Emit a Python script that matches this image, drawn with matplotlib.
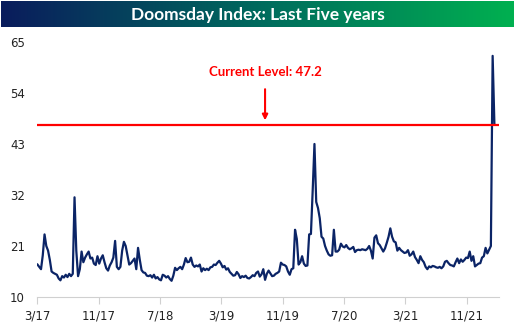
import numpy as np
import pandas as pd
import matplotlib
matplotlib.use("Agg")
import matplotlib.pyplot as plt
import matplotlib.dates as mdates
from matplotlib.colors import LinearSegmentedColormap

# weekly readings of the index, 3/2017 -> 2/2022
values = [
    17, 16.5, 16, 19, 23.5, 21, 20, 18, 15.5, 15.2,
    15, 14.8, 14, 13.6, 14.5, 14.2, 14.8, 14.3, 15, 14.5,
    15, 31.5, 20, 14.5, 16, 19.8, 17.5, 18.5, 19.2, 19.8,
    18.3, 18.5, 17.2, 16.9, 18.8, 17.2, 18.3, 19, 17.5, 16.2,
    15.7, 16.8, 17.5, 18.5, 22.1, 16.5, 16, 16.5, 20, 21.9,
    21, 19, 17, 17.3, 17.8, 18.3, 16, 20.6, 18, 15.8,
    15.3, 15.2, 14.6, 14.5, 14.7, 14.2, 14.8, 14, 14.3, 13.8,
    13.6, 14.8, 14.6, 14.2, 14.5, 13.9, 13.5, 14.6, 16.3, 15.8,
    16.2, 16.5, 16, 17, 18.4, 17.5, 17.6, 18.5, 17, 16.5,
    16.8, 16.6, 17, 15.5, 16.2, 15.8, 16.1, 15.8, 16.4, 16.5,
    17, 16.9, 17.4, 17.8, 17.2, 16.4, 16.7, 15.9, 16.2, 15.4,
    15, 14.6, 14.7, 15.4, 14.9, 14.1, 14.5, 14.3, 14.6, 14.1,
    14, 14.3, 14.7, 14.5, 15.2, 15.5, 14.4, 14.9, 16, 13.7,
    15, 15.7, 15.1, 14.5, 14.6, 15, 15.2, 15.5, 17.4, 17,
    16.9, 16.6, 15.5, 14.8, 16, 16.2, 24.5, 22.5, 17, 17.5,
    18.8, 17.2, 16.7, 16.8, 23.5, 23.6, 33, 43, 30.5, 29.2,
    27, 23, 22.6, 21, 20, 19.2, 18.9, 19, 24.5, 19.8,
    19.8, 20.2, 21.5, 20.9, 20.7, 21.2, 20.6, 20.3, 20.5, 20.8,
    19.7, 20.1, 20.2, 20.1, 20.3, 20.2, 20.1, 20.4, 21, 20,
    18.3, 22.8, 23.3, 21.6, 21.2, 20.5, 19.8, 20.5, 21.7, 23,
    24.8, 23, 22, 21.8, 20, 20.6, 20.1, 19.8, 19.5, 19.6,
    20.1, 18.9, 19.2, 19.8, 18.6, 18, 17.3, 18.8, 18, 17.5,
    16.5, 16, 16.6, 16.4, 16.7, 16.6, 16.4, 16.3, 16.5, 16.2,
    16.6, 17.6, 17.8, 17.3, 16.9, 16.8, 16.6, 17.5, 18.3, 17.3,
    18.1, 17.6, 18, 18.5, 18.4, 19.8, 17.8, 18.8, 16.6, 16.9,
    17.2, 17.3, 18.5, 18.8, 20.6, 19.4, 20.2, 21, 62, 47.2,
]
dates = pd.date_range("2017-03-03", periods=len(values), freq="W-FRI")

current_level = 47.2
title = "Doomsday Index: Last Five years"
note = "Current Level: 47.2"
y_ticks = [10, 21, 32, 43, 54, 65]
x_ticks = ["2017-03-01", "2017-11-01", "2018-07-01", "2019-03-01",
           "2019-11-01", "2020-07-01", "2021-03-01", "2021-11-01"]

navy = "#0b2466"

fig = plt.figure(figsize=(5.15, 3.27), dpi=100)

# gradient banner
tax = fig.add_axes([0.002, 0.917, 0.996, 0.08])
cmap = LinearSegmentedColormap.from_list("bar", ["#0a1c5c", "#006a5e", "#00b050"])
tax.imshow(np.linspace(0, 1, 256).reshape(1, -1), aspect="auto", cmap=cmap,
           extent=[0, 1, 0, 1])
tax.set_axis_off()
tax.text(0.5, 0.47, title, color="white", fontsize=12.5, fontweight="bold",
         family="Lato", ha="center", va="center", transform=tax.transAxes)

ax = fig.add_axes([0.0718, 0.0917, 0.898, 0.78])
ax.plot(dates, values, color=navy, lw=1.6)
ax.axhline(current_level, color="red", lw=1.6)

arrow_x = pd.Timestamp("2019-08-23")
ax.annotate(note, xy=(arrow_x, current_level + 0.9),
            xytext=(arrow_x, 58.5),
            color="red", fontsize=9.5, fontweight="bold", family="Lato",
            ha="center", va="center",
            arrowprops=dict(arrowstyle="-|>", color="red", lw=1.5,
                            mutation_scale=8, shrinkA=6, shrinkB=0))

ax.set_ylim(10, 65)
ax.set_yticks(y_ticks)
ax.set_xlim(pd.Timestamp("2017-03-01"), pd.Timestamp("2022-03-10"))
ax.set_xticks(pd.to_datetime(x_ticks))
ax.xaxis.set_major_formatter(
    plt.FuncFormatter(lambda v, p: f"{mdates.num2date(v).month}/{mdates.num2date(v).strftime('%y')}"))

for s in ["top", "right", "left"]:
    ax.spines[s].set_visible(False)
ax.spines["bottom"].set_color("#d0d0d0")
ax.tick_params(axis="x", length=5, color="#d0d0d0", labelsize=8.5,
               labelcolor="#222222", pad=4)
ax.tick_params(axis="y", length=0, labelsize=8.5, labelcolor="#222222", pad=19.5)
for lab in ax.get_yticklabels():
    lab.set_horizontalalignment("left")

fig.savefig("out.png", dpi=100)
